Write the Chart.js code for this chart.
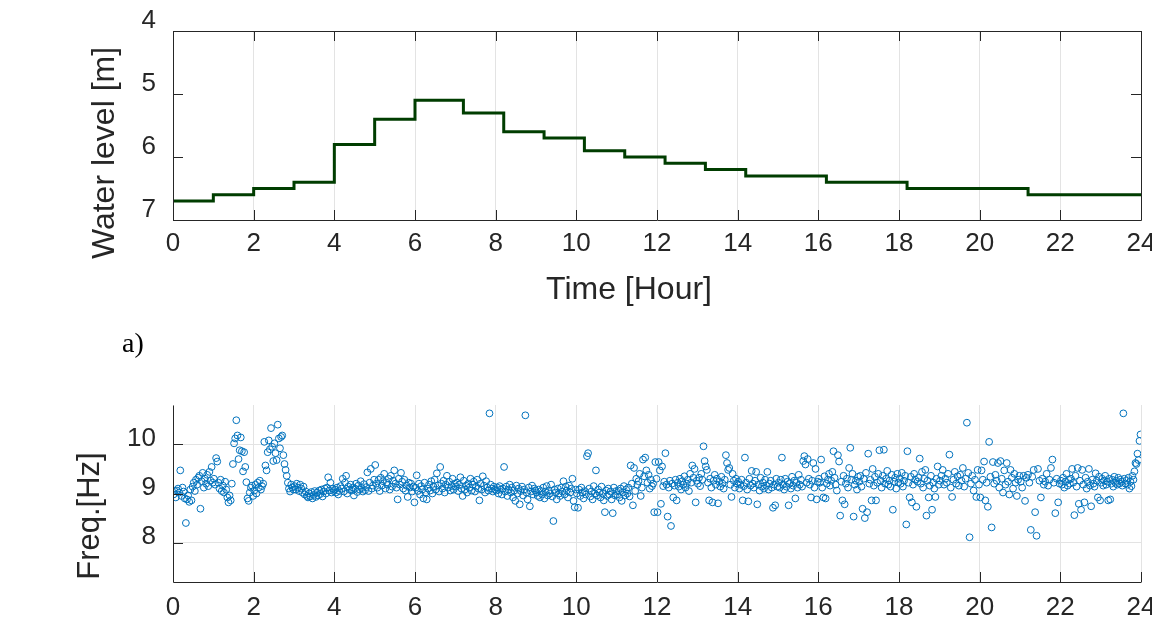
<!DOCTYPE html>
<html>
<head>
<meta charset="utf-8">
<title>Water level and frequency</title>
<script src="https://cdn.jsdelivr.net/npm/chart.js@4.4.1/dist/chart.umd.min.js"></script>
<style>
  body { margin: 0; background: #fff; width: 1152px; height: 626px; position: relative; overflow: hidden; }
  canvas { position: absolute; left: 0; }
  #levelChart { top: 0; }
  #freqChart { top: 380px; }
  #tag { position: absolute; left: 122px; top: 327px; font: 28px 'Liberation Serif', 'Times New Roman', serif; color: #000; }
</style>
</head>
<body>
<canvas id="levelChart" width="1152" height="330"></canvas>
<div id="tag">a)</div>
<canvas id="freqChart" width="1152" height="246"></canvas>

<script>
// ---- data ----
const hourTicks = [0, 2, 4, 6, 8, 10, 12, 14, 16, 18, 20, 22, 24];
const levelTicks = [4, 5, 6, 7];
const freqTicks = [8, 9, 10];

// water level steps: time [h] where each level starts, level [m]
const stepTimes  = [0, 1, 2, 3, 4, 5, 6, 7.2, 8.2, 9.2, 10.2, 11.2, 12.2, 13.2, 14.2, 16.2, 18.2, 21.2, 24];
const stepLevels = [6.7, 6.6, 6.5, 6.4, 5.8, 5.4, 5.1, 5.3, 5.6, 5.7, 5.9, 6.0, 6.1, 6.2, 6.3, 6.4, 6.5, 6.6, 6.6];

// frequency readings, one list per hour, evenly sampled inside the hour
const f00 = [8.98, 9.05, 8.92, 9.06, 9.10, 9.02, 9.47, 8.95, 9.12, 9.04, 8.90, 8.40, 8.88, 8.96, 8.83, 9.08, 8.86, 9.14, 9.22, 9.05, 9.28, 9.18, 9.32, 9.36, 8.69, 9.25, 9.42, 9.12, 9.30, 9.20, 9.38, 9.15, 9.44, 9.26, 9.54, 9.22];
const f01 = [9.30, 9.18, 9.72, 9.65, 9.22, 9.10, 9.28, 9.05, 9.16, 9.02, 9.24, 9.08, 8.92, 8.82, 8.96, 8.86, 9.20, 9.60, 10.02, 10.12, 10.49, 10.18, 9.70, 9.88, 10.14, 9.86, 9.45, 9.84, 9.54, 9.23, 8.90, 8.85, 9.02, 9.12, 9.16, 8.95];
const f02 = [9.06, 9.18, 9.00, 9.22, 9.12, 9.26, 9.08, 9.15, 9.20, 10.05, 9.57, 9.47, 9.84, 10.08, 9.90, 10.33, 9.95, 9.66, 10.02, 9.82, 9.68, 10.40, 10.12, 9.92, 10.15, 10.18, 9.78, 9.60, 9.48, 9.36, 9.22, 9.10, 9.04, 9.18, 9.12, 9.08];
const f03 = [9.15, 9.08, 9.20, 9.12, 9.05, 9.18, 9.10, 9.02, 9.14, 8.98, 9.04, 8.95, 8.92, 9.00, 8.94, 9.03, 8.90, 8.97, 9.05, 8.93, 9.02, 8.96, 9.06, 8.99, 9.08, 8.94, 9.04, 9.10, 9.00, 9.12, 9.33, 9.06, 9.22, 9.02, 9.10, 9.05];
const f04 = [9.08, 9.02, 9.12, 8.98, 9.05, 9.15, 9.10, 9.30, 9.04, 9.22, 9.36, 9.00, 9.14, 9.08, 9.18, 9.06, 9.12, 8.96, 9.10, 9.20, 9.03, 9.16, 9.08, 9.25, 9.11, 9.04, 9.19, 9.07, 9.13, 9.43, 9.05, 9.22, 9.50, 9.10, 9.16, 9.28];
const f05 = [9.58, 9.20, 9.12, 9.28, 9.05, 9.32, 9.16, 9.25, 9.40, 9.10, 9.22, 9.18, 9.30, 9.08, 9.36, 9.14, 9.26, 9.47, 9.20, 9.12, 8.88, 9.30, 9.18, 9.42, 9.24, 9.10, 9.28, 9.06, 9.16, 8.93, 9.22, 9.12, 9.20, 9.04, 9.14, 8.82];
const f06 = [9.12, 9.37, 9.05, 9.20, 8.98, 9.15, 9.08, 8.90, 9.22, 9.02, 8.88, 9.10, 9.18, 9.06, 9.25, 9.00, 9.14, 9.28, 9.08, 9.41, 9.16, 9.04, 9.54, 9.20, 9.10, 9.26, 9.02, 9.18, 9.36, 9.12, 9.24, 9.06, 9.15, 9.30, 9.08, 9.20];
const f07 = [9.14, 9.22, 9.05, 9.18, 9.33, 9.10, 8.95, 9.26, 9.08, 9.16, 9.02, 9.20, 9.12, 9.30, 9.06, 9.18, 9.24, 9.04, 9.14, 9.28, 9.10, 8.86, 9.20, 9.08, 9.35, 9.16, 9.02, 9.25, 9.12, 9.06, 10.63, 9.18, 9.10, 9.04, 9.14, 9.08];
const f08 = [9.06, 9.12, 9.00, 9.15, 9.08, 8.98, 9.10, 9.54, 9.04, 9.14, 8.95, 9.08, 9.18, 9.02, 9.12, 8.92, 9.06, 8.85, 9.16, 9.00, 9.10, 8.78, 9.05, 9.14, 8.96, 9.08, 10.59, 9.02, 8.88, 9.12, 8.74, 9.04, 9.16, 8.98, 9.10, 9.06];
const f09 = [9.02, 8.95, 9.08, 8.92, 9.05, 8.98, 9.12, 8.90, 9.04, 9.15, 8.96, 9.06, 9.00, 9.18, 8.94, 8.44, 9.08, 9.02, 8.88, 9.10, 9.00, 8.95, 9.12, 9.04, 9.25, 8.98, 9.14, 9.06, 8.92, 9.16, 9.02, 9.10, 9.30, 8.85, 8.72, 9.08];
const f10 = [9.00, 8.71, 9.08, 8.95, 9.12, 9.02, 8.90, 9.05, 8.98, 9.76, 9.82, 9.10, 8.94, 9.04, 8.88, 9.15, 9.00, 9.47, 8.96, 9.08, 9.02, 8.92, 9.14, 9.00, 8.86, 8.62, 9.06, 8.95, 9.10, 8.98, 9.04, 8.88, 8.60, 9.12, 8.96, 9.05];
const f11 = [8.98, 9.06, 8.92, 9.10, 8.85, 9.02, 9.15, 8.96, 9.08, 9.00, 9.12, 8.94, 9.57, 9.20, 8.76, 9.52, 9.05, 9.30, 9.18, 9.25, 9.40, 8.95, 9.12, 9.69, 9.35, 9.73, 9.47, 9.22, 9.38, 9.10, 9.28, 9.15, 9.20, 8.62, 9.64, 9.30];
const f12 = [8.62, 9.64, 9.47, 8.79, 9.55, 9.15, 9.24, 9.82, 9.18, 8.53, 9.12, 9.26, 8.34, 9.20, 8.92, 9.16, 9.28, 8.86, 9.22, 9.14, 9.30, 9.08, 9.25, 9.18, 9.35, 9.12, 9.20, 9.28, 9.05, 9.40, 9.22, 9.57, 9.32, 9.50, 8.82, 9.26];
const f13 = [9.20, 9.32, 9.15, 9.40, 9.28, 9.96, 9.66, 9.55, 9.48, 9.22, 8.86, 9.30, 9.12, 8.82, 9.26, 9.38, 9.18, 9.30, 8.80, 9.24, 9.14, 9.34, 9.20, 9.10, 9.28, 9.78, 9.62, 9.48, 9.52, 9.18, 8.93, 9.40, 9.26, 9.12, 9.30, 9.20];
const f14 = [9.24, 9.10, 9.18, 9.28, 8.86, 9.15, 9.73, 9.22, 9.08, 8.84, 9.30, 9.16, 9.46, 9.20, 9.12, 9.26, 9.44, 8.78, 9.18, 9.06, 9.32, 9.14, 9.22, 9.10, 9.28, 9.16, 9.44, 9.08, 9.20, 9.26, 9.12, 8.71, 9.18, 8.76, 9.30, 9.14];
const f15 = [9.22, 9.12, 9.28, 9.73, 9.18, 9.08, 9.30, 9.14, 9.24, 8.76, 9.20, 9.10, 9.34, 9.16, 9.26, 8.90, 9.22, 9.12, 9.38, 9.18, 9.28, 9.14, 9.66, 9.76, 9.59, 9.22, 9.70, 9.30, 9.18, 8.92, 9.26, 9.62, 9.12, 9.50, 8.88, 9.24];
const f16 = [9.30, 9.22, 9.69, 9.12, 8.92, 9.35, 8.90, 9.20, 9.28, 9.40, 9.16, 9.26, 9.44, 9.86, 9.32, 9.18, 9.06, 9.78, 9.65, 8.55, 9.24, 8.86, 9.36, 8.78, 9.20, 9.30, 9.12, 9.52, 9.93, 9.28, 9.40, 8.53, 9.18, 9.26, 9.08, 9.34];
const f17 = [9.24, 9.36, 9.14, 8.69, 9.30, 8.50, 9.42, 8.62, 9.81, 9.20, 9.28, 8.86, 9.50, 9.16, 9.34, 8.86, 9.22, 9.40, 9.88, 9.26, 9.12, 9.36, 9.89, 9.20, 9.30, 9.46, 9.18, 9.26, 9.14, 9.38, 8.67, 9.24, 9.32, 9.10, 9.40, 9.22];
const f18 = [9.30, 9.20, 9.42, 9.14, 9.26, 9.36, 8.37, 9.86, 9.22, 8.92, 9.34, 8.82, 9.18, 9.40, 9.28, 8.73, 9.24, 9.32, 9.71, 9.20, 9.44, 9.12, 9.30, 9.48, 8.55, 9.26, 8.92, 9.16, 9.36, 8.67, 9.22, 9.10, 8.93, 9.30, 9.55, 9.18];
const f19 = [9.26, 9.36, 9.48, 9.18, 9.30, 9.22, 9.40, 9.79, 9.12, 8.93, 9.28, 9.44, 9.20, 9.35, 9.16, 9.38, 9.26, 9.52, 9.14, 9.30, 10.44, 9.42, 8.11, 9.20, 9.36, 9.06, 9.28, 8.93, 9.48, 9.18];
const f20 = [8.92, 9.47, 9.28, 9.65, 8.86, 9.22, 8.73, 10.05, 9.34, 8.31, 9.64, 9.20, 9.38, 9.26, 9.62, 9.12, 9.66, 9.30, 9.02, 9.47, 9.18, 9.62, 9.24, 8.98, 9.48, 9.32, 9.10, 9.40, 9.22, 8.95, 9.28, 9.36];
const f21 = [9.24, 9.12, 9.36, 8.85, 9.32, 9.38, 9.22, 8.26, 9.34, 9.48, 8.62, 8.14, 9.50, 9.26, 8.92, 9.30, 9.18, 9.24, 9.40, 9.16, 9.28, 9.52, 9.69, 9.22, 8.60, 9.30, 8.82, 9.20];
const f22 = [9.26, 9.18, 9.32, 9.12, 9.24, 9.40, 9.16, 9.28, 9.20, 9.30, 9.50, 9.22, 8.56, 9.36, 9.14, 9.52, 8.79, 9.26, 8.67, 9.48, 9.18, 8.82, 9.32, 9.10, 9.24, 9.50, 9.16, 8.74, 9.28, 9.20, 9.14, 9.41, 9.26, 8.92, 9.34, 8.86];
const f23 = [9.22, 9.30, 9.16, 9.26, 9.36, 9.18, 9.24, 8.86, 9.30, 8.88, 9.20, 9.28, 9.14, 9.34, 9.22, 9.26, 9.18, 9.32, 9.20, 9.28, 9.24, 9.16, 10.63, 9.30, 9.20, 9.26, 9.18, 9.32, 9.10, 9.24, 9.15, 9.36, 9.28, 9.45, 9.62, 9.60, 9.81, 9.68, 10.07, 10.20];

const freqHours = [f00, f01, f02, f03, f04, f05, f06, f07, f08, f09, f10, f11,
                   f12, f13, f14, f15, f16, f17, f18, f19, f20, f21, f22, f23];

const freqPoints = [];
freqHours.forEach((vals, h) => {
  vals.forEach((v, k) => freqPoints.push({ x: h + (k + 0.5) / vals.length, y: v }));
});
const levelPoints = stepTimes.map((t, i) => ({ x: t, y: stepLevels[i] }));

// ---- styling ----
const textColor = '#262626';
const axisColor = '#262626';
const gridColor = '#e3e3e3';
const fontStack = "'Liberation Sans', Arial, Helvetica, sans-serif";
Chart.defaults.font.family = fontStack;
Chart.defaults.color = textColor;

// MATLAB-like frame: inside ticks, axis lines and the axis titles
const frame = {
  id: 'frame',
  afterDraw(chart, args, opts) {
    const { ctx, chartArea: a, scales: { x, y } } = chart;
    const len = 10;
    ctx.save();
    ctx.strokeStyle = axisColor;
    ctx.lineWidth = 1;
    ctx.beginPath();
    x.ticks.forEach(t => {
      const px = Math.round(x.getPixelForValue(t.value)) + 0.5;
      ctx.moveTo(px, a.bottom); ctx.lineTo(px, a.bottom - len);
      if (opts.box) { ctx.moveTo(px, a.top); ctx.lineTo(px, a.top + len); }
    });
    y.ticks.forEach(t => {
      const py = Math.round(y.getPixelForValue(t.value)) + 0.5;
      ctx.moveTo(a.left, py); ctx.lineTo(a.left + len, py);
      if (opts.box) { ctx.moveTo(a.right, py); ctx.lineTo(a.right - len, py); }
    });
    ctx.stroke();

    const l = Math.round(a.left) + 0.5, r = Math.round(a.right) + 0.5;
    const t = Math.round(a.top) + 0.5, b = Math.round(a.bottom) + 0.5;
    ctx.beginPath();
    if (opts.box) {
      ctx.rect(l, t, r - l, b - t);
    } else {
      ctx.moveTo(l, t); ctx.lineTo(l, b); ctx.lineTo(r, b);
    }
    ctx.stroke();

    ctx.fillStyle = textColor;
    ctx.textAlign = 'center';
    ctx.textBaseline = 'middle';
    if (opts.xTitle) {
      ctx.font = opts.titleSize + 'px ' + fontStack;
      ctx.fillText(opts.xTitle, opts.xTitleX, opts.xTitleY);
    }
    ctx.translate(opts.yTitleX, opts.yTitleY);
    ctx.rotate(-Math.PI / 2);
    ctx.font = opts.titleSize + 'px ' + fontStack;
    ctx.fillText(opts.yTitle, 0, 0);
    ctx.restore();
  }
};

const tickFont = { size: 26 };

// ---- top: water level ----
new Chart(document.getElementById('levelChart'), {
  type: 'line',
  data: {
    datasets: [{
      data: levelPoints,
      stepped: true,
      borderColor: '#003d00',
      borderWidth: 3,
      pointRadius: 0,
      fill: false
    }]
  },
  options: {
    responsive: false,
    animation: false,
    layout: { padding: { top: 31, right: 11, left: 0, bottom: 0 } },
    plugins: {
      legend: { display: false },
      tooltip: { enabled: false },
      frame: {
        box: true, titleSize: 32,
        yTitle: 'Water level [m]', yTitleX: 105, yTitleY: 153,
        xTitle: 'Time [Hour]', xTitleX: 629, xTitleY: 290
      }
    },
    scales: {
      x: {
        type: 'linear', min: 0, max: 24,
        afterBuildTicks: s => { s.ticks = hourTicks.map(v => ({ value: v })); },
        afterFit: s => { s.height = 110; s.paddingLeft = 0; s.paddingRight = 0; },
        grid: { color: gridColor, drawTicks: false },
        border: { display: false },
        ticks: { padding: 8, font: tickFont, maxRotation: 0, autoSkip: false }
      },
      y: {
        type: 'linear', min: 4, max: 7, reverse: true,
        afterBuildTicks: s => { s.ticks = levelTicks.map(v => ({ value: v })); },
        afterFit: s => { s.width = 173; s.paddingTop = 0; s.paddingBottom = 0; },
        grid: { display: false, drawTicks: false },
        border: { display: false },
        ticks: { padding: 17, labelOffset: -10, font: tickFont }
      }
    }
  },
  plugins: [frame]
});

// ---- bottom: frequency ----
new Chart(document.getElementById('freqChart'), {
  type: 'scatter',
  data: {
    datasets: [{
      data: freqPoints,
      pointStyle: 'circle',
      pointRadius: 3.4,
      borderWidth: 1,
      borderColor: '#0072BD',
      backgroundColor: 'rgba(0,0,0,0)'
    }]
  },
  options: {
    responsive: false,
    animation: false,
    layout: { padding: { top: 25, right: 11, left: 0, bottom: 0 } },
    plugins: {
      legend: { display: false },
      tooltip: { enabled: false },
      frame: { box: false, titleSize: 31, yTitle: 'Freq.[Hz]', yTitleX: 90, yTitleY: 136 }
    },
    scales: {
      x: {
        type: 'linear', min: 0, max: 24,
        afterBuildTicks: s => { s.ticks = hourTicks.map(v => ({ value: v })); },
        afterFit: s => { s.height = 44; s.paddingLeft = 0; s.paddingRight = 0; },
        grid: { color: gridColor, drawTicks: false },
        border: { display: false },
        ticks: { padding: 10, font: tickFont, maxRotation: 0, autoSkip: false }
      },
      y: {
        type: 'linear', min: 7.2, max: 10.8,
        afterBuildTicks: s => { s.ticks = freqTicks.map(v => ({ value: v })); },
        afterFit: s => { s.width = 173; s.paddingTop = 0; s.paddingBottom = 0; },
        grid: { color: gridColor, drawTicks: false },
        border: { display: false },
        ticks: { padding: 17, labelOffset: -6, font: tickFont }
      }
    }
  },
  plugins: [frame]
});
</script>
</body>
</html>
